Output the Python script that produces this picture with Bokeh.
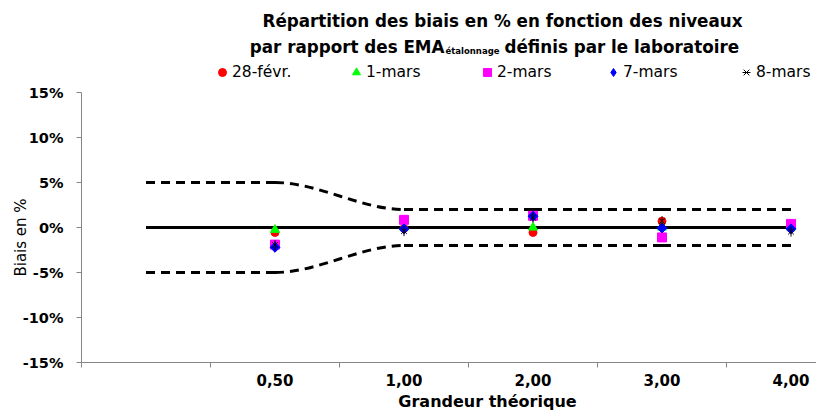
import math
from bokeh.plotting import figure
from bokeh.models import Range1d, FixedTicker, Label, Legend, LegendItem
from bokeh.embed import file_html
from bokeh.resources import INLINE

# ---------------- data ----------------
categories = ["", "0,50", "1,00", "2,00", "3,00", "4,00"]
upper_limit = [5, 5, 2, 2, 2, 2]
zero_line = [0, 0, 0, 0, 0, 0]
lower_limit = [-5, -5, -2, -2, -2, -2]

s_28fevr = [-0.55, -0.1, -0.55, 0.7, -0.1]
s_1mars = [-0.25, 0.0, 0.0, 0.0, 0.0]
s_2mars = [-1.9, 0.85, 1.3, -1.1, 0.4]
s_7mars = [-2.2, -0.15, 1.25, -0.05, -0.15]
s_8mars = [-1.95, -0.4, 1.1, 0.7, -0.45]

series_names = ["28-févr.", "1-mars", "2-mars", "7-mars", "8-mars"]
y_ticks = [-15, -10, -5, 0, 5, 10, 15]
y_tick_labels = ["-15%", "-10%", "-5%", "0%", "5%", "10%", "15%"]

title_line1 = "Répartition des biais en % en fonction des niveaux"
title_line2a = "par rapport des EMA"
title_line2_sub = "étalonnage"
title_line2b = "définis par le laboratoire"
x_title = "Grandeur théorique"
y_title = "Biais en %"

# ---------------- layout ----------------
W, H = 816, 411
FL, FT, FB = 81, 92, 362        # plot area left / top / bottom (px)
PX_PER_CAT = 129
PX_PER_PCT = (FB - FT) / 30.0

x0 = -0.5 - FL / PX_PER_CAT
x1 = x0 + W / PX_PER_CAT
y1 = 15 + FT / PX_PER_PCT
y0 = y1 - H / PX_PER_PCT

p = figure(width=W, height=H, output_backend="svg", toolbar_location=None,
           x_range=Range1d(x0, x1), y_range=Range1d(y0, y1),
           min_border=0)
p.outline_line_color = None
p.xgrid.grid_line_color = None
p.ygrid.grid_line_color = None
p.background_fill_color = "white"
p.border_fill_color = "white"

def dx(px):
    return x0 + px / PX_PER_CAT

def dy(py):
    return y1 - py / PX_PER_PCT

FONT = "DejaVu Sans"
AXIS_COLOR = "#868686"
TXT = "black"
x_end = dx(W)

# axes (fixed inside the canvas, bounded to the plot area)
xa = p.xaxis[0]
xa.fixed_location = -15
xa.bounds = (-0.5, x_end)
xa.ticker = FixedTicker(ticks=list(range(1, len(categories))),
                        minor_ticks=[i - 0.5 for i in range(len(categories))])
xa.major_label_overrides = {i: c for i, c in enumerate(categories) if c}
xa.major_tick_out = 0
xa.major_tick_in = 0
xa.minor_tick_out = 5
xa.minor_tick_in = 0
xa.minor_tick_line_color = AXIS_COLOR
xa.axis_line_color = AXIS_COLOR
xa.major_label_text_font = FONT
xa.major_label_text_font_style = "bold"
xa.major_label_text_font_size = "15px"
xa.major_label_text_color = TXT
xa.major_label_standoff = 6

ya = p.yaxis[0]
ya.fixed_location = -0.5
ya.bounds = (-15, 15)
ya.ticker = FixedTicker(ticks=y_ticks)
ya.major_label_overrides = dict(zip(y_ticks, y_tick_labels))
ya.major_tick_out = 5
ya.major_tick_in = 0
ya.minor_tick_line_color = None
ya.major_tick_line_color = AXIS_COLOR
ya.axis_line_color = AXIS_COLOR
ya.major_label_text_font = FONT
ya.major_label_text_font_style = "bold"
ya.major_label_text_font_size = "14.5px"
ya.major_label_text_color = TXT
ya.major_label_standoff = 13

# smoothed limit lines (monotone cubic Bezier through the points)
def bezier_segments(ys):
    xs = list(range(len(ys)))
    n = len(xs)
    d = [ys[i + 1] - ys[i] for i in range(n - 1)]
    m = []
    for i in range(n):
        if i == 0:
            m.append(d[0])
        elif i == n - 1:
            m.append(d[-1])
        elif d[i - 1] * d[i] <= 0:
            m.append(0.0)
        else:
            m.append((d[i - 1] + d[i]) / 2)
    seg = dict(x0=[], y0=[], x1=[], y1=[], cx0=[], cy0=[], cx1=[], cy1=[])
    for i in range(n - 1):
        seg["x0"].append(xs[i]); seg["y0"].append(ys[i])
        seg["x1"].append(xs[i + 1]); seg["y1"].append(ys[i + 1])
        seg["cx0"].append(xs[i] + 1 / 3); seg["cy0"].append(ys[i] + m[i] / 3)
        seg["cx1"].append(xs[i + 1] - 1 / 3); seg["cy1"].append(ys[i + 1] - m[i + 1] / 3)
    return seg

for ys, dash in [(upper_limit, "9 6"), (lower_limit, "9 6"), (zero_line, "solid")]:
    seg = bezier_segments(ys)
    p.bezier(x0="x0", y0="y0", x1="x1", y1="y1", cx0="cx0", cy0="cy0",
             cx1="cx1", cy1="cy1", source=seg, line_color="black",
             line_width=3, line_dash=dash)

xs_pts = [categories.index(c) for c in categories if c]

r_red = p.scatter(xs_pts, s_28fevr, marker="circle", size=8,
                  fill_color="#FF0000", line_color="#FF0000")
r_green = p.scatter(xs_pts, s_1mars, marker="triangle", size=9,
                    fill_color="#00FF00", line_color="#00FF00")
r_mag = p.scatter(xs_pts, s_2mars, marker="square", size=9,
                  fill_color="#FF00FF", line_color="#FF00FF")
# diamond (drawn under the rotated square; it is also the legend swatch)
r_blue_leg = p.scatter(xs_pts, s_7mars, marker="diamond", size=9,
                       fill_color="#0000FF", line_color="#0000FF")
r_blue = p.scatter(xs_pts, s_7mars, marker="square", size=7, angle=math.pi / 4,
                   fill_color="#0000FF", line_color="#0000FF")
r_blk1 = p.scatter(xs_pts, s_8mars, marker="x", size=8, line_color="black",
                   line_width=1)
r_blk2 = p.scatter(xs_pts, s_8mars, marker="dash", size=10, angle=math.pi / 2,
                   line_color="black", line_width=1)

# legend: one single-item legend per series, placed like the reference
legend_items = [
    ([r_red], series_names[0], 222),
    ([r_green], series_names[1], 356),
    ([r_mag], series_names[2], 487),
    ([r_blue_leg], series_names[3], 613),
    ([r_blk1, r_blk2], series_names[4], 746),
]
LEG_Y = 72
for rends, lab, cx in legend_items:
    lg = Legend(items=[LegendItem(label=lab, renderers=rends)],
                location=(cx - 10, H - (LEG_Y + 10)),
                orientation="horizontal", padding=0, margin=0, spacing=0,
                glyph_width=20, glyph_height=20, label_height=20,
                label_standoff=0, label_text_font=FONT, label_text_color=TXT,
                label_text_font_size="15.5px", border_line_color=None,
                background_fill_alpha=0)
    p.add_layout(lg)

# titles
TITLE_CX = 502
TITLE_SIZE = "16.75px"
p.add_layout(Label(x=dx(TITLE_CX), y=dy(20), text=title_line1, text_align="center",
                   text_baseline="middle", text_font=FONT, text_font_style="bold",
                   text_color=TXT, text_font_size=TITLE_SIZE))
L2_BASE = 46
SPLIT = 444          # end of "par rapport des EMA"
SUB_W = 54           # width taken by the subscript
GAP = 6              # word space after the subscript
p.add_layout(Label(x=dx(SPLIT), y=dy(L2_BASE), text=title_line2a, text_align="right",
                   text_baseline="alphabetic", text_font=FONT, text_font_style="bold",
                   text_color=TXT, text_font_size=TITLE_SIZE))
p.add_layout(Label(x=dx(SPLIT + 1), y=dy(L2_BASE + 4), text=title_line2_sub,
                   text_align="left", text_baseline="alphabetic", text_font=FONT,
                   text_color=TXT, text_font_style="bold", text_font_size="8.5px"))
p.add_layout(Label(x=dx(SPLIT + SUB_W + GAP), y=dy(L2_BASE), text=title_line2b,
                   text_align="left", text_baseline="alphabetic", text_font=FONT,
                   text_font_style="bold", text_color=TXT, text_font_size=TITLE_SIZE))

p.add_layout(Label(x=dx(487), y=dy(401), text=x_title, text_align="center",
                   text_baseline="alphabetic", text_font=FONT, text_font_style="bold",
                   text_color=TXT, text_font_size="16px"))
p.add_layout(Label(x=dx(20), y=dy(237), text=y_title, text_align="center",
                   text_baseline="middle", angle=math.pi / 2, text_font=FONT,
                   text_color=TXT, text_font_size="15px"))

open("out.html", "w").write(file_html(p, INLINE))
